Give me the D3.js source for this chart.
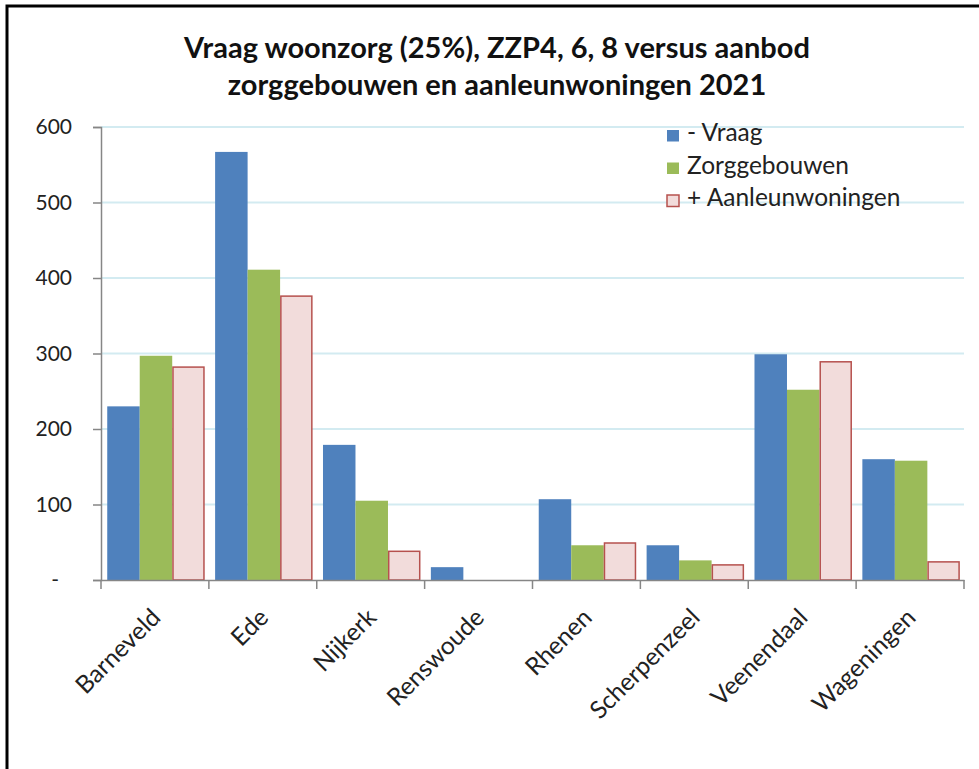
<!DOCTYPE html>
<html>
<head>
<meta charset="utf-8">
<script src="https://cdn.jsdelivr.net/npm/d3@7"></script>
<style>
  html, body { margin: 0; padding: 0; background: #fff; }
  svg { display: block; font-family: Lato, "Open Sans", sans-serif; }
</style>
</head>
<body>
<svg width="979" height="769"></svg>
<script>
var titleLines = ["Vraag woonzorg (25%), ZZP4, 6, 8 versus aanbod", "zorggebouwen en aanleunwoningen 2021"];
var gemeenten = ["Barneveld", "Ede", "Nijkerk", "Renswoude", "Rhenen", "Scherpenzeel", "Veenendaal", "Wageningen"];
var seriesNames = ["- Vraag", "Zorggebouwen", "+ Aanleunwoningen"];
var vraag = [230, 567, 179, 17, 107, 46, 299, 160];
var zorggebouwen = [297, 411, 105, 0, 46, 26, 252, 158];
var aanleunwoningen = [282, 376, 38, 0, 49, 20, 289, 24];
var yTicks = [0, 100, 200, 300, 400, 500, 600];

var fills = ["#4f81bd", "#9bbb59", "#f2dcdb"];
var strokes = ["none", "none", "#b6514e"];

var svg = d3.select("svg");

// frame
svg.append("path")
    .attr("d", "M7,769 V6 H979")
    .attr("fill", "none")
    .attr("stroke", "#000")
    .attr("stroke-width", 3);

var x = d3.scaleBand().domain(gemeenten).range([101, 964]);
var xs = d3.scaleBand().domain(d3.range(3)).range([0, x.bandwidth()])
    .paddingOuter(0.16).align(0.6);
var y = d3.scaleLinear().domain([0, 600]).range([580, 127]);

// title
svg.append("g").selectAll("text")
    .data(titleLines)
    .enter().append("text")
    .attr("x", 497)
    .attr("y", function(d, i) { return 58 + i * 37; })
    .attr("text-anchor", "middle")
    .attr("font-size", 29)
    .attr("font-weight", "bold")
    .attr("fill", "#111")
    .text(function(d) { return d; });

// gridlines
svg.append("g").selectAll("line")
    .data(yTicks.slice(1))
    .enter().append("line")
    .attr("x1", 101).attr("x2", 964)
    .attr("y1", function(d) { return y(d); })
    .attr("y2", function(d) { return y(d); })
    .attr("stroke", "#d3ebf1")
    .attr("stroke-width", 2);

// bars
var series = [vraag, zorggebouwen, aanleunwoningen];
var groups = svg.append("g").selectAll("g")
    .data(series)
    .enter().append("g");

groups.selectAll("rect")
    .data(function(d, si) { return d.map(function(v, i) { return { s: si, g: gemeenten[i], v: v }; }).filter(function(d) { return d.v > 0; }); })
    .enter().append("rect")
    .attr("x", function(d) { return x(d.g) + xs(d.s) + (d.s == 2 ? 0.75 : 0); })
    .attr("width", function(d) { return xs.bandwidth() - (d.s == 2 ? 1.5 : 0); })
    .attr("y", function(d) { return y(d.v); })
    .attr("height", function(d) { return y(0) - y(d.v); })
    .attr("fill", function(d) { return fills[d.s]; })
    .attr("stroke", function(d) { return strokes[d.s]; })
    .attr("stroke-width", 1.5);

// y axis
var yAxis = svg.append("g")
    .attr("transform", "translate(101,0)")
    .call(d3.axisLeft(y).tickValues(yTicks).tickSize(8).tickPadding(21)
        .tickFormat(function(d) { return d == 0 ? "-" : d; }));
yAxis.select(".domain").attr("stroke", "#868686").attr("stroke-width", 1.5);
yAxis.selectAll(".tick line").attr("stroke", "#868686").attr("stroke-width", 1.5);
yAxis.selectAll(".tick text")
    .attr("font-size", 21)
    .attr("font-family", "Lato, sans-serif")
    .attr("fill", "#222")
    .attr("dx", function(d) { return d == 0 ? -13 : 0; });

// x axis
var xAxis = svg.append("g")
    .attr("transform", "translate(0,580)")
    .call(d3.axisBottom(x).tickSize(0).tickFormat(""));
xAxis.select(".domain").attr("stroke", "#868686").attr("stroke-width", 1.5);

svg.append("g").selectAll("line")
    .data(d3.range(gemeenten.length + 1))
    .enter().append("line")
    .attr("x1", function(i) { return 101 + i * x.step(); })
    .attr("x2", function(i) { return 101 + i * x.step(); })
    .attr("y1", 580).attr("y2", 589)
    .attr("stroke", "#868686")
    .attr("stroke-width", 1.5);

svg.append("g").selectAll("text")
    .data(gemeenten)
    .enter().append("text")
    .attr("transform", function(d) { return "translate(" + (x(d) + x.bandwidth() / 2 + 7) + ",619) rotate(-45)"; })
    .attr("text-anchor", "end")
    .attr("font-size", 24.5)
    .attr("fill", "#222")
    .text(function(d) { return d; });

// legend
var legend = svg.append("g").selectAll("g")
    .data(seriesNames)
    .enter().append("g")
    .attr("transform", function(d, i) { return "translate(667," + (141 + i * 32.5) + ")"; });

legend.append("rect")
    .attr("y", -11)
    .attr("width", 12).attr("height", 11.5)
    .attr("fill", function(d, i) { return fills[i]; })
    .attr("stroke", function(d, i) { return strokes[i]; })
    .attr("stroke-width", 1.5);

legend.append("text")
    .attr("x", 20)
    .attr("font-size", 24.5)
    .attr("fill", "#222")
    .text(function(d) { return d; });
</script>
</body>
</html>
